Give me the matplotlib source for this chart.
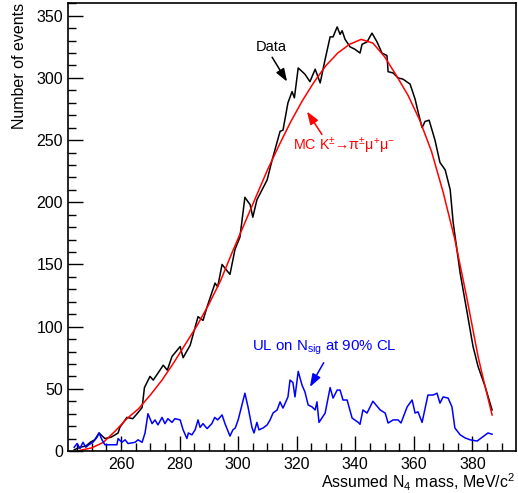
import matplotlib
matplotlib.use('Agg')
import matplotlib.pyplot as plt
from matplotlib.ticker import MultipleLocator

plt.rcParams['font.family'] = ['Liberation Sans', 'DejaVu Sans']
plt.rcParams['mathtext.fontset'] = 'custom'
plt.rcParams['mathtext.rm'] = 'Liberation Sans'
plt.rcParams['mathtext.it'] = 'Liberation Sans:italic'
plt.rcParams['mathtext.sf'] = 'Liberation Sans'

# Data (black histogram outline)
data_mass = [244.0, 246.0, 248.0, 249.5, 251.0, 252.5, 254.5, 256.5, 258.0, 259.0,
             259.6, 262.0, 264.0, 265.5, 267.2, 268.0, 269.9, 271.0, 273.3, 274.4,
             275.8, 277.4, 280.2, 281.2, 283.6, 286.3, 288.0, 289.4, 292.1, 293.0,
             294.5, 297.2, 298.9, 300.6, 302.3, 304.1, 305.0, 306.4, 309.9, 311.6,
             314.3, 315.3, 317.0, 318.4, 319.2, 320.5, 322.8, 324.5, 326.3, 328.0,
             329.7, 331.4, 332.4, 333.8, 334.8, 335.5, 336.5, 338.2, 339.9, 341.6,
             342.3, 344.0, 345.7, 347.4, 349.1, 350.8, 351.2, 352.9, 354.6, 356.3,
             358.7, 360.4, 361.4, 362.8, 363.8, 365.2, 367.2, 368.9, 370.7, 372.4,
             373.4, 375.8, 378.2, 380.2, 381.9, 384.3, 386.7]
data_events = [1, 3, 4, 7, 9, 14.5, 10, 11, 13, 14.5,
               19, 27, 26, 30, 35, 51, 60, 57, 65, 69,
               65, 76, 84, 75, 85, 108, 105, 116, 135, 132,
               150, 142, 162, 172, 204, 198, 188, 202, 218, 234,
               257, 258, 280, 289, 284, 308, 303, 297, 307, 296,
               315, 333, 333, 341, 335, 338, 331, 325, 323, 320,
               327, 329, 336, 329, 320, 318, 305, 304, 300, 299,
               295, 283, 273, 260, 265, 266, 250, 232, 226, 210,
               184, 143, 111, 84, 68, 52, 33]

# MC K -> pi mu mu (red)
mc_mass = [246, 250, 254, 258, 262, 266, 270, 274, 278, 282, 286, 290, 294, 298,
           302, 306, 310, 314, 318, 322, 326, 330, 334, 338, 342, 346, 350, 354,
           358, 362, 366, 370, 374, 378, 382, 384, 386.7]
mc_events = [0.5, 2.5, 7, 16, 26, 34, 45, 57, 71, 86, 101, 118, 137, 160,
             182, 204, 226, 246, 265, 282, 297, 310, 320, 327, 331, 328, 317, 302,
             286, 266, 241, 208, 170, 124, 75, 55, 29]

# Upper limit on N_sig at 90% CL (blue)
ul_mass = [244, 245, 246, 247, 248, 249, 250.4, 251.8, 252.5, 253.5, 254.5, 256, 258.6,
           259, 260.3, 261.4, 262.4, 264.8, 265.8, 267.2, 268.2, 269.2, 270.6, 271.6,
           272.6, 274, 275, 276, 277.4, 278.4, 280.2, 281.2, 282.5, 283, 284.2, 285.3,
           286.3, 287, 288, 289.4, 291, 292, 293, 294.5, 295.5, 297.2, 298.2, 299, 300,
           302.3, 303.4, 304.7, 305.4, 306.4, 307.1, 308.5, 309.9, 310.9, 311.9, 313.3,
           314.3, 315.3, 317, 317.7, 318.7, 319.4, 320.5, 321.8, 322.8, 323.9, 325.2,
           326.3, 326.9, 327.6, 329.7, 331.4, 332.4, 333.8, 334.8, 335.8, 337.2, 338.9,
           341, 341.6, 342.6, 344, 346, 348.5, 350.2, 351.2, 352.9, 354.6, 355.6, 357.7,
           359.4, 360.4, 361.4, 362.8, 364.8, 366.6, 367.9, 368.9, 370, 371.7, 373, 374,
           375.8, 377.5, 379.2, 381.6, 383.3, 385.3, 386.7]
ul_events = [3, 6, 2, 7, 3, 5, 7, 11, 14.5, 9, 5, 5, 5,
             10, 7, 9, 6, 7, 9, 7, 14.5, 30, 22, 25,
             21, 27, 22, 26, 23, 26, 25, 17, 10, 14.5, 13, 17,
             25, 19, 22, 18, 22, 27, 25, 29, 22, 12, 17, 18.5, 25,
             46.5, 35, 19, 14.5, 23, 17, 18.5, 21, 25, 30.5, 33,
             39.5, 34.5, 43.5, 57, 55, 43.5, 64, 53, 47.5, 37, 35.5,
             33, 39.5, 23, 30.5, 51, 42.5, 49, 49, 41, 41, 26.5,
             23, 21.5, 33, 30.5, 40, 33, 30.5, 22.5, 25, 25, 22.5, 35.5,
             41, 30.5, 31.5, 23, 45, 45, 46.5, 38.5, 43.5, 42.5, 35.5, 18.5,
             13, 10.5, 9, 8, 11, 14.5, 13.5]

fig = plt.figure(figsize=(5.18, 4.93), dpi=100)
ax = fig.add_axes([0.1313, 0.0852, 0.8639, 0.9081])

ax.plot(data_mass, data_events, color='black', lw=1.1)
ax.plot(mc_mass, mc_events, color='#ff0000', lw=1.1)
ax.plot(ul_mass, ul_events, color='#0000ff', lw=1.1)

ax.set_xlim(241.9, 394.7)
ax.set_ylim(0, 360)

ax.xaxis.set_major_locator(MultipleLocator(20))
ax.xaxis.set_minor_locator(MultipleLocator(5))
ax.yaxis.set_major_locator(MultipleLocator(50))
ax.yaxis.set_minor_locator(MultipleLocator(10))
ax.tick_params(which='both', direction='in', top=False, right=False, labelsize=11.5, width=1)
ax.tick_params(which='major', length=11)
ax.tick_params(which='minor', length=6)
ax.tick_params(axis='x', pad=4)
for s in ax.spines.values():
    s.set_linewidth(1.2)

ax.set_xlabel(r'Assumed N$_{4}$ mass, MeV/c$^{2}$', fontsize=11.5, loc='right', labelpad=0)
ax.set_ylabel('Number of events', fontsize=11.5, loc='top', labelpad=7)

# annotations: text + arrow drawn separately
def arrow(tail, head, color):
    ax.annotate('', xy=head, xytext=tail,
                arrowprops=dict(arrowstyle='-|>,head_length=0.7,head_width=0.25', color=color,
                                lw=1.1, mutation_scale=11, shrinkA=0, shrinkB=0))

ax.text(311.2, 325, 'Data', fontsize=10.5, ha='center', va='center')
arrow((311.6, 316.6), (316.7, 297), 'black')

ax.text(318.7, 245, r'MC K$^{\pm}$→π$^{\pm}$μ$^{+}$μ$^{-}$', fontsize=10.3, color='#ff0000',
        ha='left', va='center')
arrow((328.6, 254.5), (323.5, 273), '#ff0000')

ax.text(329.3, 83, r'UL on N$_{\mathrm{sig}}$ at 90% CL', fontsize=10.8, color='#0000ff',
        ha='center', va='center')
arrow((329.2, 71), (324.5, 51.5), '#0000ff')

fig.savefig('out.png', dpi=100)
